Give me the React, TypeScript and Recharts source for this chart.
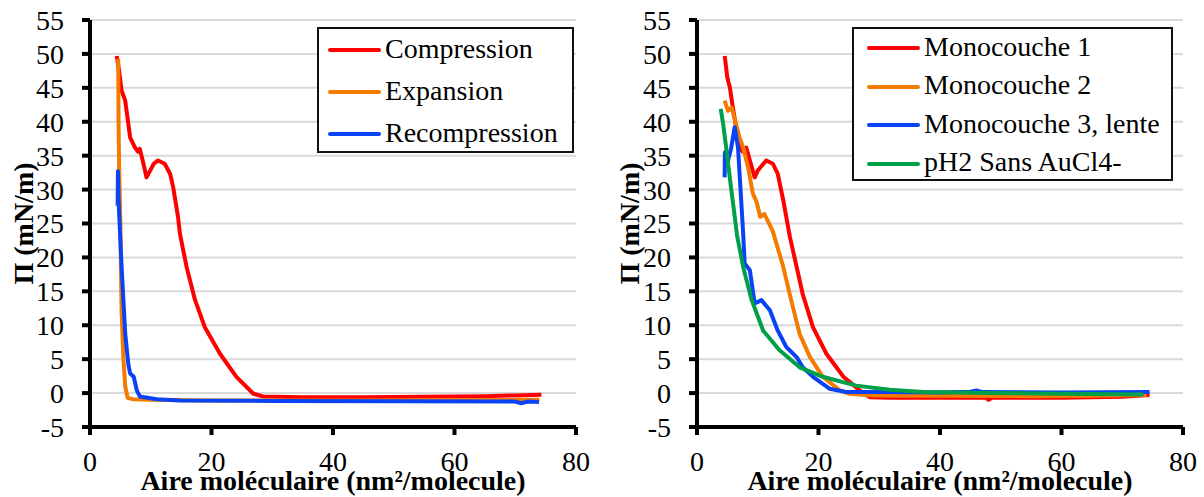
import React from "react";
import { LineChart, Line, XAxis, YAxis, CartesianGrid, Legend } from "recharts";

// tick labels for both panels
const xTicks = [0, 20, 40, 60, 80];
const yTicks = [-5, 0, 5, 10, 15, 20, 25, 30, 35, 40, 45, 50, 55];

// left panel : compression / expansion / recompression
const compressionX = [4.4, 4.8, 5.2, 5.8, 6.6, 7.4, 7.9, 8.2, 8.8, 9.3, 9.9, 10.5, 11.2, 12.3, 13.2, 13.7, 14.5, 14.8, 15.9, 17.3, 18.9, 21.4, 24.1, 26.9, 28.5, 35, 45, 55, 65, 70, 74.3];
const compressionY = [49.7, 47.5, 44.6, 43.1, 37.7, 36.2, 35.6, 36.0, 33.8, 31.8, 32.8, 33.8, 34.3, 33.8, 32.3, 30.3, 25.9, 23.5, 18.6, 13.7, 9.7, 5.8, 2.4, -0.1, -0.5, -0.6, -0.6, -0.55, -0.45, -0.35, -0.25];

const expansionX = [4.65, 4.7, 4.8, 5.0, 5.1, 5.2, 5.5, 5.8, 6.2, 7.0, 10, 20, 40, 60, 74];
const expansionY = [49.3, 40, 33, 25, 18, 12, 5, 1, -0.7, -0.9, -1.0, -1.1, -1.1, -1.05, -1.0];

const recompressionX = [4.55, 4.6, 4.7, 5.2, 5.8, 6.3, 6.6, 7.2, 7.7, 8.2, 11, 14.8, 30, 50, 70, 71, 72, 73.9];
const recompressionY = [27.6, 32.7, 28.4, 18.6, 8.7, 4.3, 2.9, 2.4, 0.4, -0.5, -0.9, -1.1, -1.15, -1.2, -1.25, -1.5, -1.25, -1.3];

// right panel : monolayers
const mono1X = [4.56, 5.0, 5.4, 5.9, 7.0, 7.5, 8.1, 8.7, 9.5, 10.0, 11.4, 12.5, 13.3, 14.2, 15.3, 15.8, 17.4, 19.1, 21.3, 24.1, 26.8, 28.4, 31.7, 40, 47.5, 48, 48.5, 60, 70, 74.5];
const mono1Y = [49.7, 46.5, 45.1, 42.1, 36.2, 35.6, 36.2, 34.3, 31.8, 32.8, 34.3, 33.8, 32.3, 28.4, 23, 21, 14.6, 9.7, 5.8, 2.4, 0.4, -0.6, -0.7, -0.7, -0.7, -1.0, -0.7, -0.7, -0.55, -0.3];

const mono2X = [4.56, 5.1, 5.7, 7.0, 7.6, 8.4, 9.2, 9.8, 10.4, 11.1, 12.5, 14.2, 15.5, 16.9, 18.6, 20.7, 23.5, 25.1, 29, 40, 55, 65, 74];
const mono2Y = [43.1, 41.6, 42.1, 37.7, 36.2, 33.3, 29.4, 28.2, 26.0, 26.4, 23.8, 18.6, 13.7, 8.7, 5.3, 2.4, 0.4, -0.1, -0.35, -0.4, -0.45, -0.4, -0.3];

const mono3X = [4.55, 4.6, 5.1, 5.6, 6.2, 6.75, 7.3, 7.6, 7.85, 8.7, 9.5, 10.6, 12.0, 13.3, 14.7, 16.4, 17.4, 19.1, 21.8, 24.6, 31.7, 40, 45, 46, 47, 60, 74.5];
const mono3Y = [31.8, 35.5, 34.3, 36.0, 39.2, 36.2, 28.0, 23.5, 19.1, 18.1, 13.2, 13.7, 12.2, 9.2, 6.8, 5.3, 3.8, 2.4, 0.65, 0.15, 0.15, 0.1, 0.2, 0.4, 0.15, 0.1, 0.15];

const ph2X = [3.9, 4.3, 4.9, 5.5, 6.0, 6.6, 7.6, 9.0, 10.9, 13.6, 16.9, 20.7, 26.2, 31.7, 37.2, 48, 60, 73.5];
const ph2Y = [41.9, 39.7, 35.5, 31.0, 27.5, 23.2, 18.6, 13.7, 9.2, 6.3, 3.8, 2.4, 1.1, 0.5, 0.15, 0.0, -0.1, -0.2];

const toPoints = (xs: number[], ys: number[]) => xs.map((x, i) => ({ x, y: ys[i] }));

const FONT = "'Liberation Serif', 'Times New Roman', serif";

// legend box
function makeLegend(rowH: number, padLeft: number) {
  return (props: any) => {
    const payload = props.payload || [];
    return (
      <div style={{ border: "2px solid #111", background: "#fff", boxSizing: "border-box", width: "100%", height: "100%" }}>
        {payload.map((p: any) => (
          <div key={p.value} style={{ display: "flex", alignItems: "center", height: rowH, paddingLeft: padLeft - 2 }}>
            <div style={{ width: 53, height: 4, background: p.color, borderRadius: 2 }} />
            <span style={{ marginLeft: 4, marginTop: -3, fontFamily: FONT, fontSize: 28, lineHeight: 1, color: "#000", whiteSpace: "nowrap" }}>{p.value}</span>
          </div>
        ))}
      </div>
    );
  };
}

interface PanelProps {
  width: number;
  yAxisWidth: number;
  rightMargin: number;
  yLabelOffset: number;
  legendBox: { left: number; top: number; width: number; height: number };
  legendRow: number;
  legendPad: number;
  series: { name: string; color: string; data: { x: number; y: number }[] }[];
}

function Panel({ width, yAxisWidth, rightMargin, yLabelOffset, legendBox, legendRow, legendPad, series }: PanelProps) {
  const tickStyle = { fill: "#000", fontSize: 28, fontFamily: FONT };
  return (
    <LineChart width={width} height={497} margin={{ top: 20, right: rightMargin, bottom: 0, left: 0 }}>
      <CartesianGrid vertical={false} stroke="#d9d9d9" strokeWidth={2} />
      <XAxis
        type="number"
        dataKey="x"
        domain={[0, 80]}
        ticks={xTicks}
        interval={0}
        height={70}
        tick={tickStyle}
        tickSize={8}
        tickMargin={16}
        axisLine={{ stroke: "#000", strokeWidth: 4 }}
        tickLine={{ stroke: "#000", strokeWidth: 4 }}
        allowDataOverflow
        label={{
          value: "Aire moléculaire (nm²/molecule)",
          position: "insideBottom",
          offset: 7,
          style: { fill: "#000", fontSize: 28, fontWeight: "bold", fontFamily: FONT },
        }}
      />
      <YAxis
        type="number"
        domain={[-5, 55]}
        ticks={yTicks}
        interval={0}
        width={yAxisWidth}
        tick={tickStyle}
        tickSize={8}
        tickMargin={18}
        axisLine={{ stroke: "#000", strokeWidth: 4 }}
        tickLine={{ stroke: "#000", strokeWidth: 4 }}
        allowDataOverflow
        label={{
          value: "Π (mN/m)",
          angle: -90,
          position: "insideLeft",
          offset: yLabelOffset,
          style: { fill: "#000", fontSize: 28, fontWeight: "bold", fontFamily: FONT, textAnchor: "middle" },
        }}
      />
      <Legend
        layout="vertical"
        align="center"
        verticalAlign="middle"
        width={legendBox.width}
        height={legendBox.height}
        wrapperStyle={{ left: legendBox.left, top: legendBox.top, width: legendBox.width, height: legendBox.height }}
        content={makeLegend(legendRow, legendPad)}
      />
      {series.map((s) => (
        <Line
          key={s.name}
          data={s.data}
          dataKey="y"
          name={s.name}
          type="linear"
          stroke={s.color}
          strokeWidth={4}
          dot={false}
          strokeLinejoin="round"
          isAnimationActive={false}
        />
      ))}
    </LineChart>
  );
}

export default function App() {
  const leftSeries = [
    { name: "Compression", color: "#ff0000", data: toPoints(compressionX, compressionY) },
    { name: "Expansion", color: "#f47b00", data: toPoints(expansionX, expansionY) },
    { name: "Recompression", color: "#0a43f5", data: toPoints(recompressionX, recompressionY) },
  ];
  const rightSeries = [
    { name: "Monocouche 1", color: "#ff0000", data: toPoints(mono1X, mono1Y) },
    { name: "Monocouche 2", color: "#f47b00", data: toPoints(mono2X, mono2Y) },
    { name: "Monocouche 3, lente", color: "#0a43f5", data: toPoints(mono3X, mono3Y) },
    { name: "pH2 Sans AuCl4-", color: "#00a04a", data: toPoints(ph2X, ph2Y) },
  ];

  return (
    <div style={{ position: "absolute", left: 0, top: 0, width: 1204, height: 497, background: "#fff" }}>
      <div style={{ position: "absolute", left: 0, top: 0 }}>
        <Panel
          width={600}
          yAxisWidth={90}
          rightMargin={24}
          yLabelOffset={23}
          legendBox={{ left: 317, top: 27, width: 257, height: 126 }}
          legendRow={42}
          legendPad={11}
          series={leftSeries}
        />
      </div>
      <div style={{ position: "absolute", left: 600, top: 0 }}>
        <Panel
          width={604}
          yAxisWidth={97}
          rightMargin={21}
          yLabelOffset={29}
          legendBox={{ left: 252, top: 27, width: 321, height: 154 }}
          legendRow={38.5}
          legendPad={15}
          series={rightSeries}
        />
      </div>
    </div>
  );
}
